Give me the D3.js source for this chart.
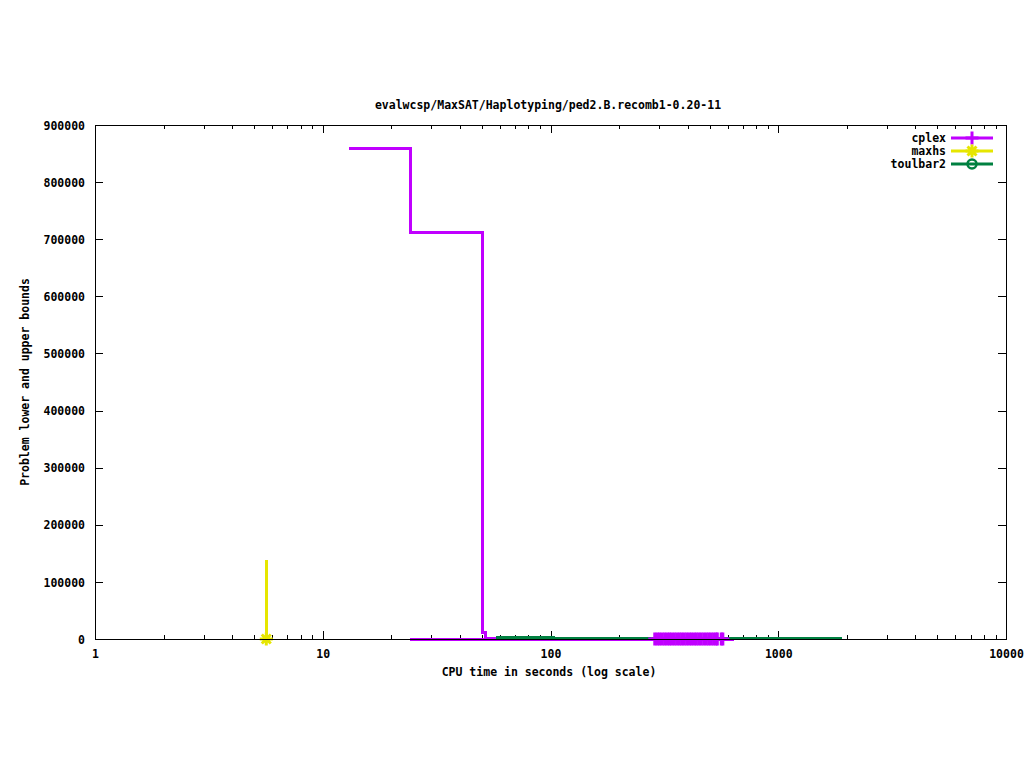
<!DOCTYPE html>
<html><head><meta charset="utf-8">
<script src="https://cdn.jsdelivr.net/npm/d3@7"></script>
<style>
html,body{margin:0;padding:0;background:#fff;}
text{font-family:"DejaVu Sans Mono",monospace;font-weight:bold;font-size:11.5px;fill:#000;}
</style></head><body>
<svg id="c" width="1024" height="768"></svg>
<script>
// ---- data ----
const title = "evalwcsp/MaxSAT/Haplotyping/ped2.B.recomb1-0.20-11";
const xLabel = "CPU time in seconds (log scale)";
const yLabel = "Problem lower and upper bounds";
const xTicks = [1, 10, 100, 1000, 10000];
const xTickLabels = ["1", "10", "100", "1000", "10000"];
const yTicks = [0, 100000, 200000, 300000, 400000, 500000, 600000, 700000, 800000, 900000];
const seriesNames = ["cplex", "maxhs", "toulbar2"];
const seriesColors = ["#c000ff", "#e6e600", "#008040"];

// [time (s), bound]
const cplexUpper = [[13.1, 859500], [24.2, 712000], [50.5, 11900], [52.0, 1000], [641, 1000]];
const cplexLower = [[24.2, 0], [641, 0]];
const cplexMarkTimes = [287, 294, 301, 309, 317, 325, 333, 341, 350, 359, 368, 377, 386, 396, 406, 416, 427, 437, 448, 459, 471, 483, 495, 507, 520, 533, 540, 562, 571];
const maxhsUpper = [[5.65, 138300], [5.65, 0]];
const maxhsMarkTimes = [5.65];
const toulbarUpper = [[57.4, 2600], [103, 900], [1870, 900], [1870, 0]];
const toulbarLower = [[34.6, 0], [34.8, 0]];

// ---- layout ----
const L = 95, R = 1006, T = 125, B = 639;
const svg = d3.select("#c");
const x = d3.scaleLog().domain([1, 10000]).range([L, R]);
const y = d3.scaleLinear().domain([0, 900000]).range([B, T]);

const minorX = [];
[1, 10, 100, 1000].forEach(d => { for (let k = 2; k <= 9; k++) minorX.push(d * k); });

// axes (ticks inward)
const gAx = svg.append("g").attr("shape-rendering", "crispEdges");
function clean(g) { g.select(".domain").remove(); g.selectAll("line").attr("stroke", "#000"); }
gAx.append("g").attr("transform", `translate(0,${B})`)
  .call(d3.axisBottom(x).tickValues(minorX).tickSize(-4).tickFormat("")).call(clean);
gAx.append("g").attr("transform", `translate(0,${T})`)
  .call(d3.axisTop(x).tickValues(minorX).tickSize(-4).tickFormat("")).call(clean);
gAx.append("g").attr("transform", `translate(0,${B})`)
  .call(d3.axisBottom(x).tickValues(xTicks).tickSize(-8).tickPadding(11)
    .tickFormat((d, i) => xTickLabels[i])).call(clean)
  .selectAll("text").attr("font-family", null).attr("font-size", null);
gAx.append("g").attr("transform", `translate(0,${T})`)
  .call(d3.axisTop(x).tickValues(xTicks).tickSize(-8).tickFormat("")).call(clean);
gAx.append("g").attr("transform", `translate(${L},0)`)
  .call(d3.axisLeft(y).tickValues(yTicks).tickSize(-8).tickPadding(10)
    .tickFormat(d3.format("d"))).call(clean)
  .selectAll("text").attr("font-family", null).attr("font-size", null).attr("dy", "0.36em");
gAx.append("g").attr("transform", `translate(${R},0)`)
  .call(d3.axisRight(y).tickValues(yTicks).tickSize(-8).tickFormat("")).call(clean);

const line = d3.line().x(d => x(d[0])).y(d => y(d[1])).curve(d3.curveStepAfter);
const plot = svg.append("g");
function path(data, color) {
  plot.append("path").datum(data).attr("d", line).attr("fill", "none")
    .attr("stroke", color).attr("stroke-width", 3).attr("stroke-linejoin", "miter")
    .attr("shape-rendering", "crispEdges");
}
function plus(g, cx, cy, color) {
  g.append("path").attr("d", `M${cx - 6.5},${cy}H${cx + 6.5}M${cx},${cy - 6.5}V${cy + 6.5}`)
    .attr("stroke", color).attr("stroke-width", 3).attr("fill", "none");
}
function star(g, cx, cy, color) {
  g.append("path").attr("d", `M${cx - 6.5},${cy}H${cx + 6.5}M${cx},${cy - 6.5}V${cy + 6.5}M${cx - 4.5},${cy - 4.5}L${cx + 4.5},${cy + 4.5}M${cx - 4.5},${cy + 4.5}L${cx + 4.5},${cy - 4.5}`)
    .attr("stroke", color).attr("stroke-width", 3).attr("fill", "none");
}
function circ(g, cx, cy, color) {
  g.append("circle").attr("cx", cx).attr("cy", cy).attr("r", 4.5)
    .attr("stroke", color).attr("stroke-width", 2.5).attr("fill", "none");
}

path(cplexUpper, seriesColors[0]);
path(cplexLower, seriesColors[0]);
path(maxhsUpper, seriesColors[1]);
maxhsMarkTimes.forEach(t => star(plot, x(t), y(0), seriesColors[1]));
path(toulbarUpper, seriesColors[2]);
path(toulbarLower, seriesColors[2]);
cplexMarkTimes.forEach(t => plus(plot, x(t), y(0), seriesColors[0]));

// frame
svg.append("rect").attr("x", L).attr("y", T).attr("width", R - L).attr("height", B - T)
  .attr("fill", "none").attr("stroke", "#000").attr("stroke-width", 1)
  .attr("shape-rendering", "crispEdges");

// texts
svg.append("text").attr("x", 548).attr("y", 109).attr("text-anchor", "middle").text(title);
svg.append("text").attr("x", 549).attr("y", 676).attr("text-anchor", "middle").text(xLabel);
svg.append("text").attr("transform", `translate(29,${(T + B) / 2}) rotate(-90)`)
  .attr("text-anchor", "middle").text(yLabel);

// legend
const leg = svg.append("g");
const markers = [plus, star, circ];
seriesNames.forEach((n, i) => {
  const ly = 138 + i * 13;
  leg.append("text").attr("x", 946).attr("y", ly + 4).attr("text-anchor", "end").text(n);
  leg.append("line").attr("x1", 951).attr("x2", 993).attr("y1", ly).attr("y2", ly)
    .attr("stroke", seriesColors[i]).attr("stroke-width", 3);
  markers[i](leg, 972, ly, seriesColors[i]);
});
</script></body></html>
